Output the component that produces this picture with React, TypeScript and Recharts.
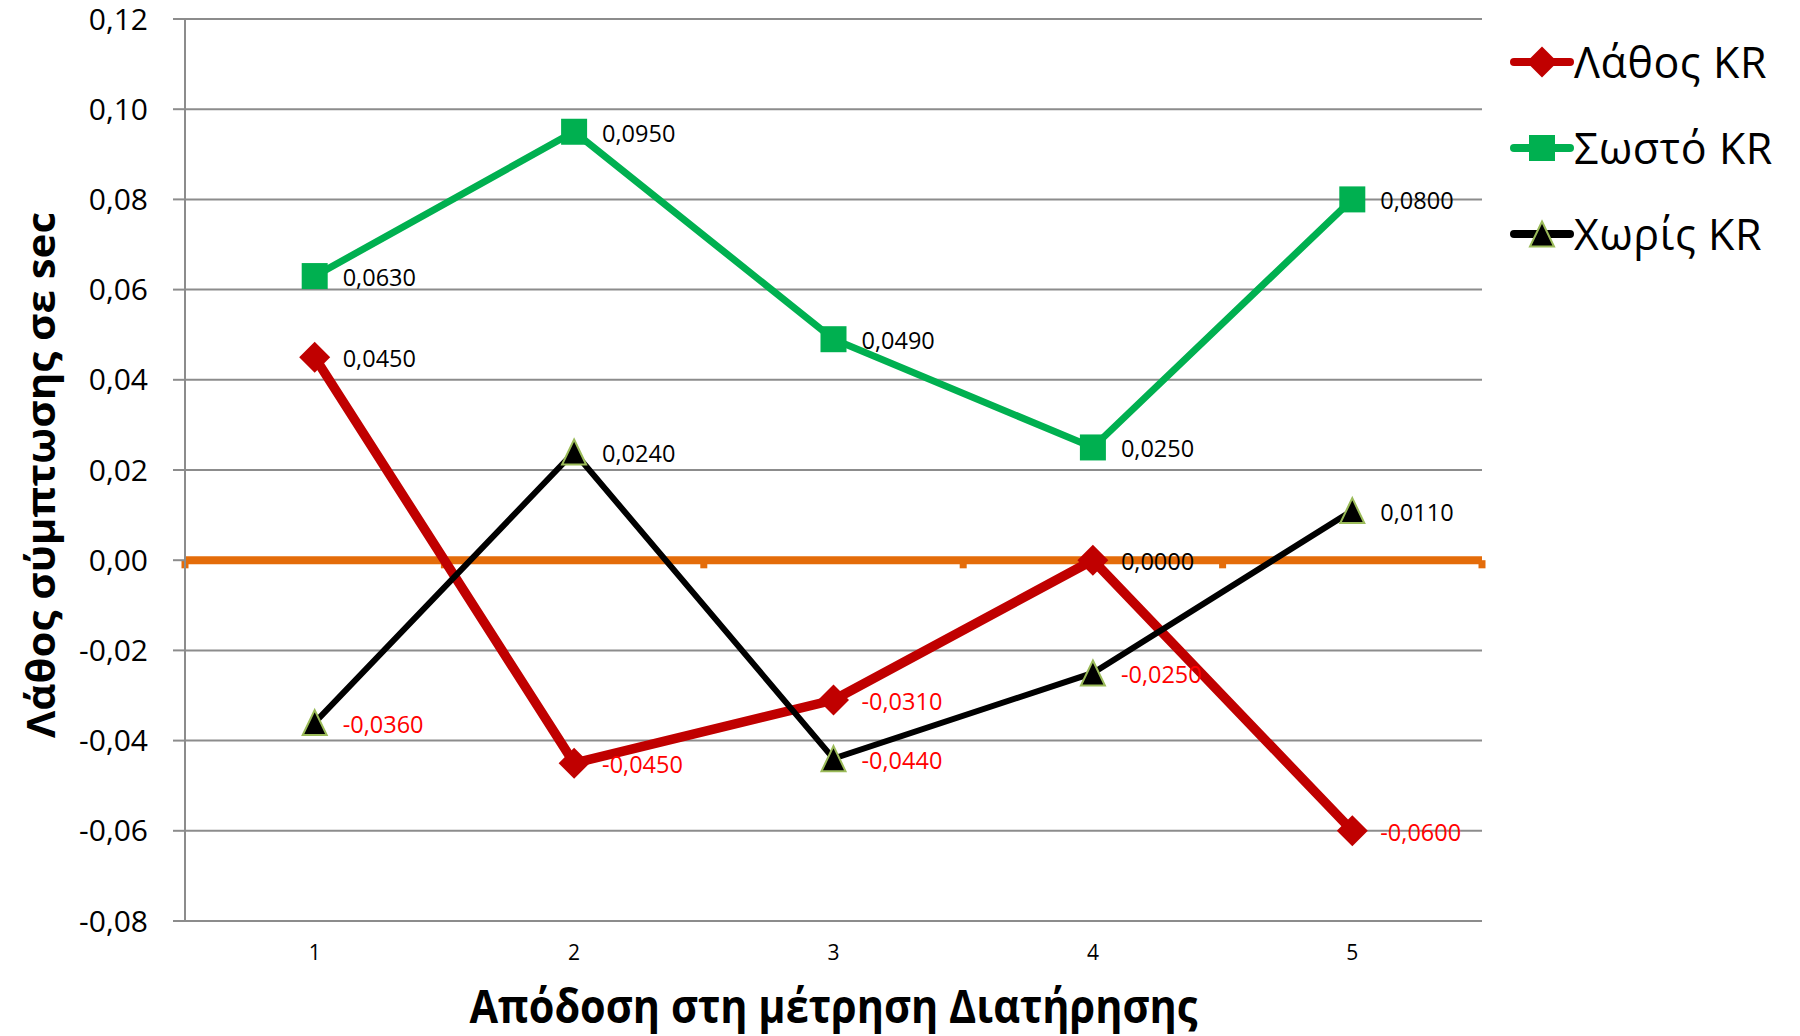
import React from 'react';
import {
  LineChart,
  Line,
  XAxis,
  YAxis,
  CartesianGrid,
  ReferenceLine,
  LabelList,
  Legend,
} from 'recharts';

// ---- data ----
const categories = [1, 2, 3, 4, 5];
const lathosKR = [0.045, -0.045, -0.031, 0.0, -0.06];
const sostoKR = [0.063, 0.095, 0.049, 0.025, 0.08];
const xorisKR = [-0.036, 0.024, -0.044, -0.025, 0.011];
const yTicks = [-0.08, -0.06, -0.04, -0.02, 0, 0.02, 0.04, 0.06, 0.08, 0.1, 0.12];
const categoryBounds = [0.5, 1.5, 2.5, 3.5, 4.5, 5.5];
const seriesNames = ['Λάθος KR', 'Σωστό KR', 'Χωρίς KR'];
const xTitle = 'Απόδοση στη μέτρηση Διατήρησης';
const yTitle = 'Λάθος σύμπτωσης σε sec';

const data = categories.map((c, i) => ({
  x: c,
  lathos: lathosKR[i],
  sosto: sostoKR[i],
  xoris: xorisKR[i],
}));

const FONT = "'Open Sans', 'Noto Sans', sans-serif";
const RED = '#C00000';
const GREEN = '#00B050';
const BLACK = '#000000';
const ORANGE = '#E46C0A';
const GRID = '#8c8c8c';
const TRI_STROKE = '#9BBB59';

const fmt4 = (v: number) => v.toFixed(4).replace('.', ',');
const fmt2 = (v: number) => (Math.abs(v) < 1e-9 ? 0 : v).toFixed(2).replace('.', ',');

const Diamond = ({ cx, cy, r = 15.5 }: any) => (
  <path d={`M${cx},${cy - r} L${cx + r},${cy} L${cx},${cy + r} L${cx - r},${cy} Z`} fill={RED} />
);
const Square = ({ cx, cy, s = 26 }: any) => (
  <rect x={cx - s / 2} y={cy - s / 2} width={s} height={s} fill={GREEN} />
);
const Triangle = ({ cx, cy, h = 12.5, w = 12 }: any) => (
  <path
    d={`M${cx},${cy - h} L${cx + w},${cy + h} L${cx - w},${cy + h} Z`}
    fill={BLACK}
    stroke={TRI_STROKE}
    strokeWidth={2}
    strokeLinejoin="miter"
  />
);

const series = [
  { key: 'lathos', name: seriesNames[0], color: RED, width: 9.5, Marker: Diamond },
  { key: 'sosto', name: seriesNames[1], color: GREEN, width: 7, Marker: Square },
  { key: 'xoris', name: seriesNames[2], color: BLACK, width: 6, Marker: Triangle },
];

const makeDot = (Marker: any, key: string) => (props: any) => {
  const { cx, cy, index } = props;
  if (cx == null || cy == null) return <g key={`${key}-${index}`} />;
  return (
    <g key={`${key}-${index}`}>
      <Marker cx={cx} cy={cy} />
    </g>
  );
};

const DataLabel = (props: any) => {
  const { x, y, value } = props;
  if (x == null || y == null) return null;
  return (
    <text
      x={x + 28}
      y={y + 1}
      dominantBaseline="central"
      fontFamily={FONT}
      fontSize={23.5}
      fill={value < 0 ? '#FF0000' : '#000000'}
    >
      {fmt4(value)}
    </text>
  );
};

const XTitle = (props: any) => {
  const vb = props.viewBox || { x: 185, y: 921, width: 1297, height: 115 };
  const cx = vb.x + vb.width / 2;
  return (
    <text
      x={cx}
      y={vb.y + 102}
      textAnchor="middle"
      fontFamily={FONT}
      fontSize={46}
      fontWeight={700}
      textLength={728}
      lengthAdjust="spacingAndGlyphs"
      fill="#000"
    >
      {xTitle}
    </text>
  );
};

const YTitle = (props: any) => {
  const vb = props.viewBox || { x: 0, y: 19, width: 185, height: 902 };
  const cy = vb.y + vb.height / 2 + 5;
  const bx = 55;
  return (
    <text
      x={bx}
      y={cy}
      transform={`rotate(-90 ${bx} ${cy})`}
      textAnchor="middle"
      fontFamily={FONT}
      fontSize={40}
      fontWeight={700}
      textLength={526}
      lengthAdjust="spacingAndGlyphs"
      fill="#000"
    >
      {yTitle}
    </text>
  );
};

const LegendContent = () => (
  <div style={{ fontFamily: FONT }}>
    {series.map((s) => (
      <div
        key={s.key}
        style={{ height: 86, display: 'flex', alignItems: 'center', whiteSpace: 'nowrap' }}
      >
        <svg width={64} height={40} style={{ display: 'block' }}>
          <line
            x1={4}
            y1={20}
            x2={60}
            y2={20}
            stroke={s.color}
            strokeWidth={8}
            strokeLinecap="round"
          />
          <s.Marker cx={32} cy={20} />
        </svg>
        <span style={{ fontSize: 43, color: '#000', letterSpacing: 0.6, lineHeight: '44px' }}>
          {s.name}
        </span>
      </div>
    ))}
  </div>
);

export default function App() {
  return (
    <div style={{ position: 'absolute', left: 0, top: 0, width: 1800, height: 1036, background: '#fff' }}>
      <LineChart
        width={1800}
        height={1036}
        data={data}
        margin={{ top: 19, right: 318, left: 0, bottom: 0 }}
      >
        <CartesianGrid vertical={false} stroke={GRID} strokeWidth={2} />
        <XAxis
          dataKey="x"
          type="number"
          domain={[0.5, 5.5]}
          ticks={categories}
          height={115}
          axisLine={false}
          tickLine={false}
          tickSize={0}
          tickMargin={24}
          tick={{ fontFamily: FONT, fontSize: 21, fill: '#000' }}
          label={{ content: XTitle } as any}
          allowDataOverflow
        />
        <YAxis
          type="number"
          domain={[-0.08, 0.12]}
          ticks={yTicks}
          width={185}
          axisLine={{ stroke: GRID, strokeWidth: 2 }}
          tickLine={{ stroke: GRID, strokeWidth: 2 }}
          tickSize={12}
          tickMargin={25}
          tickFormatter={fmt2}
          tick={{ fontFamily: FONT, fontSize: 30, fill: '#000' }}
          label={{ content: YTitle } as any}
          allowDataOverflow
        />
        <ReferenceLine y={0} stroke={ORANGE} strokeWidth={8} />
        {categoryBounds.map((b) => (
          <ReferenceLine
            key={`b-${b}`}
            segment={[
              { x: b, y: 0 },
              { x: b, y: -0.0018 },
            ]}
            stroke={ORANGE}
            strokeWidth={7}
          />
        ))}
        {series.map((s) => (
          <Line
            key={s.key}
            dataKey={s.key}
            name={s.name}
            stroke={s.color}
            strokeWidth={s.width}
            strokeLinejoin="miter"
            dot={makeDot(s.Marker, s.key)}
            activeDot={false}
            isAnimationActive={false}
          >
            <LabelList dataKey={s.key} content={DataLabel} />
          </Line>
        ))}
        <Legend
          layout="vertical"
          align="center"
          verticalAlign="middle"
          content={LegendContent}
          wrapperStyle={{ position: 'absolute', left: 1510, top: 19, width: 290, height: 260 }}
        />
      </LineChart>
    </div>
  );
}
